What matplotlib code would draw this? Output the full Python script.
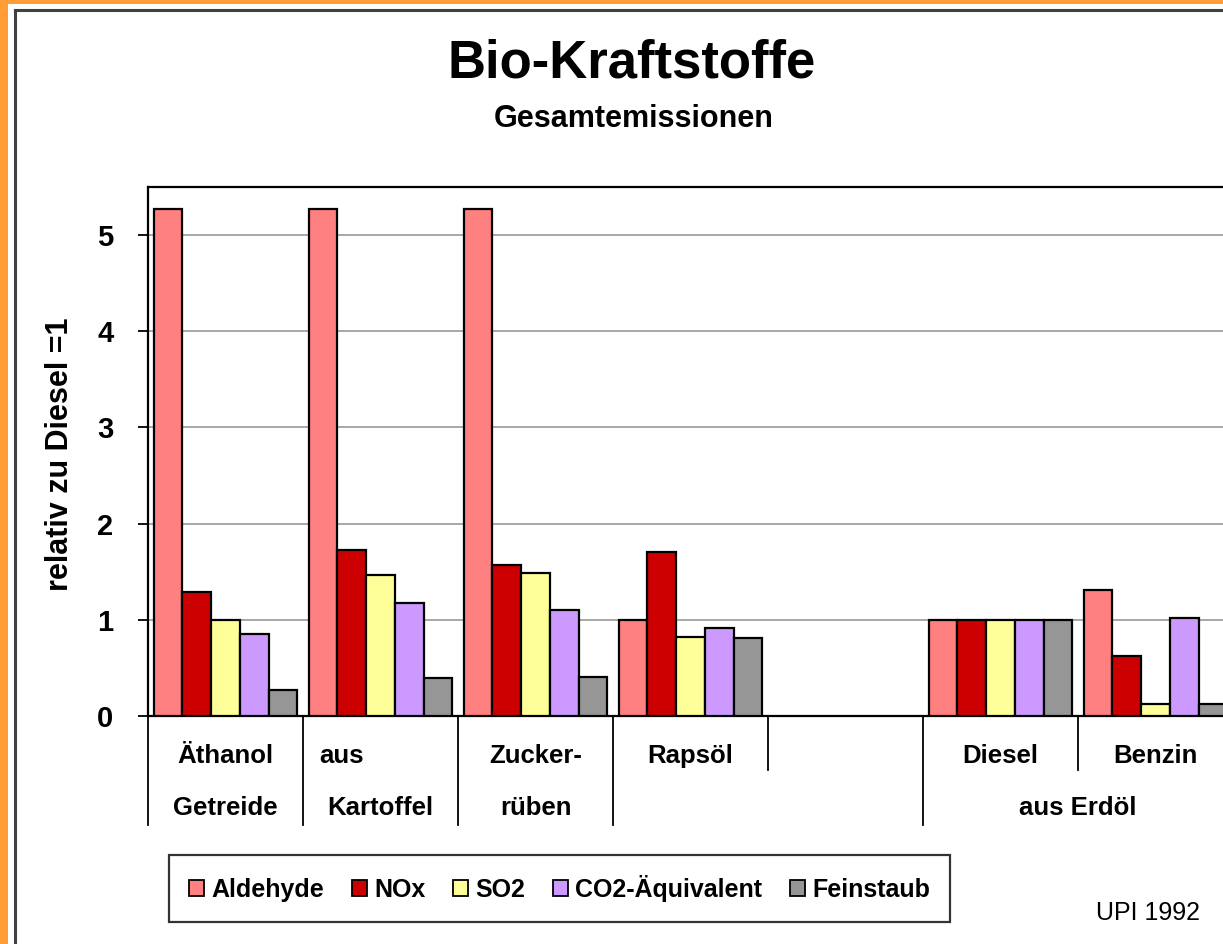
import numpy as np
import matplotlib
matplotlib.use("Agg")
import matplotlib.pyplot as plt
from matplotlib.patches import Rectangle, Patch
from matplotlib.lines import Line2D
import matplotlib.transforms as mtransforms

# Emission values relative to Diesel = 1
groups = ["Getreide", "Kartoffel", "Zuckerrüben", "Rapsöl", "", "Diesel", "Benzin"]
series = ["Aldehyde", "NOx", "SO2", "CO2-Äquivalent", "Feinstaub"]
aldehyde = [5.27, 5.27, 5.27, 1.00, np.nan, 1.00, 1.31]
nox = [1.29, 1.73, 1.57, 1.71, np.nan, 1.00, 0.62]
so2 = [1.00, 1.47, 1.49, 0.82, np.nan, 1.00, 0.12]
co2 = [0.85, 1.18, 1.10, 0.91, np.nan, 1.00, 1.02]
feinstaub = [0.27, 0.39, 0.41, 0.81, np.nan, 1.00, 0.12]
colors = ["#FF8080", "#CC0000", "#FFFF99", "#CC99FF", "#969696"]

row1_labels = ["Äthanol", "aus", "Zucker-", "Rapsöl", "Diesel", "Benzin"]
row1_pos = [0, 0.75, 2, 3, 5, 6]
row2_labels = ["Getreide", "Kartoffel", "rüben", "aus Erdöl"]
row2_pos = [0, 1, 2, 5.5]
yticks = [0, 1, 2, 3, 4, 5]

W, H = 1223, 944
FONT = "Liberation Sans"

fig = plt.figure(figsize=(W / 100, H / 100), dpi=100)
fig.patch.set_facecolor("white")

# orange frame and chart border
fig.patches.append(Rectangle((0, 0), 8 / W, 1, transform=fig.transFigure,
                             facecolor="#FF9E36", edgecolor="none", zorder=0))
fig.patches.append(Rectangle((0, 1 - 4 / H), 1, 4 / H, transform=fig.transFigure,
                             facecolor="#FF9E36", edgecolor="none", zorder=0))
fig.add_artist(Line2D([15 / W, 15 / W], [0, 1 - 10 / H], transform=fig.transFigure,
                      color="#404040", lw=2.2))
fig.add_artist(Line2D([15 / W, 1], [1 - 10 / H, 1 - 10 / H], transform=fig.transFigure,
                      color="#404040", lw=2.2))

# plot area (right edge runs past the canvas like in the original)
left, right, bottom, top = 148, 1233, 716, 187
ax = fig.add_axes([left / W, 1 - bottom / H, (right - left) / W, (bottom - top) / H])
ax.set_xlim(-0.5, len(groups) - 0.5)
ax.set_ylim(0, 5.5)

x = np.arange(len(groups))
bw = 0.185
all_vals = [aldehyde, nox, so2, co2, feinstaub]
for i, (vals, c) in enumerate(zip(all_vals, colors)):
    ax.bar(x + (i - 2) * bw, vals, width=bw, color=c, edgecolor="black",
           linewidth=1.6, zorder=3)

ax.set_yticks(yticks)
ax.set_yticklabels([str(t) for t in yticks], fontfamily=FONT, fontweight="bold", fontsize=21)
ax.tick_params(axis="y", direction="out", length=7, width=1.3, pad=18)
ax.tick_params(axis="x", length=0, labelbottom=False)
ax.yaxis.grid(True, color="#A0A0A0", linewidth=1.3, zorder=0)
ax.set_axisbelow(True)
for s in ["left", "top", "bottom"]:
    ax.spines[s].set_linewidth(1.6)
    ax.spines[s].set_color("black")
ax.spines["right"].set_visible(False)

# two-row category table under the axis
trans = mtransforms.blended_transform_factory(ax.transData, ax.transAxes)
row1_y = -(770 - bottom) / (bottom - top)
row2_y = -(825 - bottom) / (bottom - top)
for b in [-0.5, 0.5, 1.5, 2.5, 4.5]:
    ax.plot([b, b], [0, row2_y], transform=trans, color="black", lw=1.3, clip_on=False)
for b in [3.5, 5.5]:
    ax.plot([b, b], [0, row1_y], transform=trans, color="black", lw=1.3, clip_on=False)

t1 = -(763 - bottom) / (bottom - top)
t2 = -(815 - bottom) / (bottom - top)
for lab, p in zip(row1_labels, row1_pos):
    ax.text(p, t1, lab, transform=trans, ha="center", va="baseline",
            fontfamily=FONT, fontweight="bold", fontsize=18.5)
for lab, p in zip(row2_labels, row2_pos):
    ax.text(p, t2, lab, transform=trans, ha="center", va="baseline",
            fontfamily=FONT, fontweight="bold", fontsize=18.5)

# titles and axis label
fig.text(632 / W, 1 - 77 / H, "Bio-Kraftstoffe", ha="center", va="baseline",
         fontfamily=FONT, fontweight="bold", fontsize=38)
fig.text(634 / W, 1 - 127 / H, "Gesamtemissionen", ha="center", va="baseline",
         fontfamily=FONT, fontweight="bold", fontsize=22)
fig.text(60 / W, 1 - 454 / H, "relativ zu Diesel =1", rotation=90, ha="center",
         va="center", fontfamily=FONT, fontweight="bold", fontsize=22)
fig.text(1200 / W, 1 - 920 / H, "UPI 1992", ha="right", va="baseline",
         fontfamily=FONT, fontsize=18)

# legend
handles = [Patch(facecolor=c, edgecolor="black", linewidth=1.3) for c in colors]
leg = fig.legend(handles, series, loc="center", ncol=5,
                 bbox_to_anchor=((172 + 947) / 2 / W, 1 - (852 + 925) / 2 / H),
                 bbox_transform=fig.transFigure, frameon=True, fancybox=False,
                 edgecolor="black", handlelength=0.6, handleheight=0.6,
                 handletextpad=0.3, columnspacing=1.1, borderpad=0.8,
                 borderaxespad=0, prop={"family": FONT, "weight": "bold", "size": 18})
leg.get_frame().set_linewidth(1.6)

fig.savefig("out.png", dpi=100, facecolor="white")
